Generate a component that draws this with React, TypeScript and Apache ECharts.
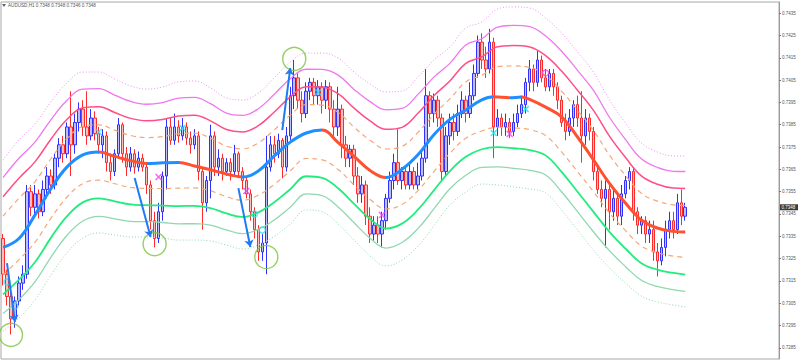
import React, { useEffect, useRef } from "react";
import * as echarts from "echarts";

// ---------- data (prices stored in pips above BASE_PRICE) ----------
const BASE_PRICE = 0.728;
const PIP = 0.0001;
const titleSymbol = "AUDUSD,H1";
const titleOhlc = ["0.7348", "0.7348", "0.7346", "0.7348"];
const lastPrice = 0.7348;
const slotCount = 195;

const tickLabels = [
  "0.7285", "0.7295", "0.7305", "0.7315", "0.7325", "0.7335", "0.7345", "0.7355",
  "0.7365", "0.7375", "0.7385", "0.7395", "0.7405", "0.7415", "0.7425", "0.7435",
];

// [open, close, low, high] in pips
const candles: number[][] = [
  [54,38,33,56],[38,28,24,40],[28,18,11,30],[18,26,14,28],[26,34,24,37],[34,38,31,42],[38,75,36,78],[75,68,64,78],
  [68,74,65,78],[74,66,63,76],[66,76,64,80],[76,82,72,86],[82,78,74,85],[78,90,76,92],[90,96,86,99],[96,92,88,100],
  [92,104,90,106],[104,96,82,120],[96,106,92,110],[106,112,102,115],[112,104,100,116],[104,100,96,120],[100,108,98,112],[108,101,98,111],
  [101,96,92,104],[96,100,90,103],[100,88,84,102],[88,84,80,92],[84,92,82,94],[92,105,90,108],[105,92,88,106],[92,86,82,95],
  [86,92,84,95],[92,86,83,94],[86,90,84,93],[90,86,84,92],[86,78,74,88],[78,62,58,80],[62,54,50,66],[54,66,52,70],
  [66,82,62,84],[82,104,76,108],[104,98,96,108],[98,104,96,110],[104,100,97,107],[100,104,98,108],[104,99,96,106],[99,96,92,102],
  [96,100,94,103],[100,84,80,102],[84,70,58,86],[70,80,66,82],[80,100,72,105],[100,86,82,102],[86,90,82,94],[90,84,80,92],
  [84,88,82,90],[88,84,80,90],[84,92,82,96],[92,84,81,93],[84,80,76,86],[80,74,72,82],[74,66,62,76],[66,58,54,68],
  [58,48,44,60],[48,52,44,56],[52,86,38,100],[86,96,84,100],[96,92,88,100],[92,98,90,101],[98,86,81,99],[86,100,84,104],
  [100,118,98,122],[118,126,112,134],[126,116,112,128],[116,110,106,120],[110,120,108,124],[120,124,116,126],[124,118,114,126],[118,122,114,125],
  [122,116,110,124],[116,122,112,125],[122,112,106,124],[112,104,100,116],[104,112,100,122],[112,96,90,114],[96,90,86,100],[90,94,86,96],
  [94,82,78,96],[82,74,70,86],[74,78,70,82],[78,64,60,80],[64,56,52,68],[56,60,53,64],[60,56,52,64],[56,62,50,66],
  [62,72,58,74],[72,80,70,84],[80,88,76,92],[88,80,78,103],[80,84,76,86],[84,78,76,86],[78,84,76,88],[84,78,76,86],
  [78,82,76,88],[82,90,80,94],[90,118,88,130],[118,110,104,120],[110,116,106,119],[116,108,104,118],[108,84,80,110],[84,100,82,104],
  [100,106,96,110],[106,102,98,110],[102,110,100,114],[110,116,108,120],[116,110,106,118],[110,118,108,124],[118,128,116,132],[128,142,126,145],
  [142,134,130,146],[134,130,126,140],[130,142,128,148],[142,104,90,144],[104,108,100,112],[108,104,100,110],[104,106,100,110],[106,102,99,108],
  [102,106,100,110],[106,110,104,114],[110,114,108,118],[114,124,110,126],[124,130,120,134],[130,124,120,132],[124,134,122,138],[134,126,124,136],
  [126,122,120,130],[122,128,120,130],[128,122,118,130],[122,116,112,124],[116,106,104,118],[106,102,98,110],[102,108,100,112],[108,114,104,116],
  [114,108,104,118],[108,100,88,120],[100,108,96,112],[108,102,98,110],[102,84,80,104],[84,76,74,86],[76,72,68,80],[72,76,50,80],
  [76,66,58,78],[66,72,62,76],[72,64,60,74],[64,74,60,78],[74,80,72,82],[80,84,76,86],[84,66,62,86],[66,60,56,68],
  [60,62,56,64],[62,56,52,64],[56,58,52,62],[58,48,44,62],[48,44,37,52],[44,50,42,54],[50,58,46,62],[58,62,54,66],
  [62,58,54,66],[58,70,56,74],[70,64,60,76],[64,68,62,70],
];

// center moving average: [candle index, pips]
const centerLine: number[][] = [
  [0,50.0],[4,54.0],[8,64.5],[12,76.3],[16,86.0],[20,91.5],[24,92.8],[28,90.8],[32,88.9],[36,87.6],
  [40,87.9],[44,88.1],[48,86.5],[52,84.8],[56,82.9],[60,81.6],[64,84.3],[68,91.0],[72,97.2],[76,101.3],
  [80,102.6],[84,97.0],[88,90.8],[92,84.5],[96,81.3],[100,85.0],[104,91.5],[108,100.5],[112,107.4],[116,111.6],
  [120,116.1],[123,117.5],[127,117.1],[130,117.4],[132,116.4],[136,112.9],[140,108.5],[144,99.5],[148,89.2],[152,78.7],
  [156,69.9],[160,62.3],[164,58.7],[168,57.2],[171,56.9],
];

// outer envelope lines (pips) sampled at bandIdx
const bandIdx = [
  0,4,8,12,16,20,24,28,32,36,40,44,48,52,56,60,64,68,72,76,80,84,
  88,92,96,100,104,108,112,116,120,124,128,132,136,140,144,148,152,156,160,164,168,171,
];
const upperOuter = [
  89.2,98.2,105.3,115.2,123.7,128.6,128.6,125.5,122.4,121.0,121.9,124.2,124.6,121.5,117.0,116.1,119.2,126.0,133.1,137.1,
  137.1,134.9,128.6,123.3,119.7,120.1,126.4,134.0,139.8,148.3,151.0,156.9,157.8,157.3,152.8,146.1,137.6,128.6,116.1,105.8,
  96.8,92.8,91.0,91.0,
];
const lowerOuter = [
  12.5,18.4,26.4,37.6,47.5,54.2,56.5,55.6,54.7,54.7,54.2,53.3,53.3,52.9,51.1,49.3,51.1,55.0,60.5,66.8,
  65.9,60.5,53.3,46.2,41.7,44.4,50.6,59.6,69.0,74.8,78.4,78.0,77.1,76.2,74.4,66.8,57.8,48.8,40.8,34.1,
  28.2,25.6,24.2,23.3,
];
// position of each envelope between lower (0) and upper (1) outer line
const bandPositions = [1, 0.897, 0.785, 0.672, 0.328, 0.215, 0.103, 0];

// annotations: [candle index, pips]
const greenRings = [[2,10.8],[38,51.5],[66,45.7],[73,134.5]];
const cyanCrosses = [[24,101.7],[45,103.5],[79,119.6],[123,101.3],[131,112.0]];
const magentaCrosses = [[39,81.6],[61,75.3],[95,64.5],[127,100.8]];
const cyanRings = [[1,34.5],[3,23.7],[63,65.0],[65,57.8]];
const magentaRings = [[136,128.2]];
// arrows: [from index, from pips, to index, to pips]
const arrows = [[1,43,3,16.6],[33,81.1,37,54.7],[59,76.6,62,50.2],[70,102.6,72,130.4]];

// ---------- styles ----------
const CENTER_UP = "#1E8FFF";
const CENTER_DOWN = "#FF5030";
const bandStyles = [
  { color: "#F08CF0", width: 1, type: [1, 2] },
  { color: "#EE78EE", width: 1.3, type: "solid" },
  { color: "#FF4F86", width: 1.5, type: "solid" },
  { color: "#F4A878", width: 1.2, type: [5, 4] },
  { color: "#F4A878", width: 1.2, type: [5, 4] },
  { color: "#22EC7C", width: 1.8, type: "solid" },
  { color: "#8FD8B0", width: 1.3, type: "solid" },
  { color: "#8FD8B0", width: 1, type: [1, 2] },
];
const FONT = "Liberation Sans";

const toPrice = (p: number) => +(BASE_PRICE + p * PIP).toFixed(6);

export default function App() {
  const ref = useRef<HTMLDivElement>(null);

  useEffect(() => {
    if (!ref.current) return;
    const chart = echarts.init(ref.current, undefined, { renderer: "svg" });

    const categories = Array.from({ length: slotCount }, (_, i) => String(i));
    const candleData = candles.map((c) => c.map(toPrice));

    const bandSeries = bandPositions.map((t, b) => ({
      type: "line",
      data: bandIdx.map((idx, j) => [idx, toPrice(lowerOuter[j] + (upperOuter[j] - lowerOuter[j]) * t)]),
      smooth: 0.4,
      symbol: "none",
      silent: true,
      lineStyle: { color: bandStyles[b].color, width: bandStyles[b].width, type: bandStyles[b].type },
      z: 3,
    }));

    const pieces: any[] = [];
    for (let k = 0; k < centerLine.length - 1; k++) {
      const rising = centerLine[k + 1][1] >= centerLine[k][1];
      const color = rising ? CENTER_UP : CENTER_DOWN;
      const last = pieces[pieces.length - 1];
      if (last && last.color === color) last.lt = centerLine[k + 1][0];
      else pieces.push({ gte: centerLine[k][0], lt: centerLine[k + 1][0], color });
    }
    pieces[pieces.length - 1].lt = slotCount;

    const centerSeriesIndex = 1 + bandSeries.length;
    const crossPath = "path://M0 0L10 10M10 0L0 10";
    const tickValues = tickLabels.map(Number);

    const option: any = {
      animation: false,
      backgroundColor: "#ffffff",
      grid: { left: 1, right: 20, top: 2, bottom: 2, show: true, borderColor: "#a8a8a8", borderWidth: 1, backgroundColor: "transparent" },
      xAxis: { type: "category", data: categories, boundaryGap: true, show: false },
      yAxis: {
        type: "value",
        position: "right",
        min: 0.728,
        max: 0.744,
        splitLine: { show: false },
        axisLine: { show: true, lineStyle: { color: "#9a9a9a", width: 1 } },
        axisTick: { show: true, length: 2, customValues: tickValues, lineStyle: { color: "#777" } },
        axisLabel: {
          customValues: tickValues,
          fontSize: 4.5,
          fontFamily: FONT,
          color: "#555",
          margin: 3,
          formatter: (v: number) => v.toFixed(4),
        },
      },
      visualMap: [{ type: "piecewise", show: false, dimension: 0, seriesIndex: centerSeriesIndex, pieces }],
      series: [
        {
          type: "candlestick",
          data: candleData,
          barWidth: 3,
          z: 2,
          itemStyle: {
            color: "rgba(110,110,255,0.45)",
            color0: "rgba(255,110,110,0.45)",
            borderColor: "#3030FF",
            borderColor0: "#FF2A2A",
            borderWidth: 1,
          },
        },
        ...bandSeries,
        {
          type: "line",
          data: centerLine.map((p) => [p[0], toPrice(p[1])]),
          smooth: 0.4,
          symbol: "none",
          silent: true,
          lineStyle: { width: 3 },
          z: 5,
        },
        {
          type: "scatter",
          data: greenRings.map((p) => [p[0], toPrice(p[1])]),
          symbol: "circle",
          symbolSize: 23,
          silent: true,
          itemStyle: { color: "transparent", borderColor: "#7CC440", borderWidth: 1.4 },
          z: 6,
        },
        {
          type: "scatter",
          data: cyanCrosses.map((p) => [p[0], toPrice(p[1])]),
          symbol: crossPath,
          symbolSize: 6,
          silent: true,
          itemStyle: { color: "transparent", borderColor: "#20E0F0", borderWidth: 1.5 },
          z: 6,
        },
        {
          type: "scatter",
          data: magentaCrosses.map((p) => [p[0], toPrice(p[1])]),
          symbol: crossPath,
          symbolSize: 6,
          silent: true,
          itemStyle: { color: "transparent", borderColor: "#F040F0", borderWidth: 1.5 },
          z: 6,
        },
        {
          type: "scatter",
          data: cyanRings.map((p) => [p[0], toPrice(p[1])]),
          symbol: "circle",
          symbolSize: 6,
          silent: true,
          itemStyle: { color: "transparent", borderColor: "#20E0F0", borderWidth: 1.3 },
          z: 6,
        },
        {
          type: "scatter",
          data: magentaRings.map((p) => [p[0], toPrice(p[1])]),
          symbol: "circle",
          symbolSize: 6,
          silent: true,
          itemStyle: { color: "transparent", borderColor: "#F040F0", borderWidth: 1.3 },
          z: 6,
        },
        {
          type: "lines",
          coordinateSystem: "cartesian2d",
          silent: true,
          symbol: ["none", "arrow"],
          symbolSize: 7,
          lineStyle: { color: "#1E7BF5", width: 2, opacity: 1, curveness: 0 },
          data: arrows.map((a) => ({ coords: [[a[0], toPrice(a[1])], [a[2], toPrice(a[3])]] })),
          z: 7,
        },
      ],
      graphic: [
        { id: "tri", type: "polygon", shape: { points: [[2, 4], [6, 4], [4, 7]] }, style: { fill: "#666" }, z: 10 },
        {
          id: "title",
          type: "text",
          left: 8,
          top: 3,
          z: 10,
          style: {
            text: titleSymbol + " " + titleOhlc.join(" "),
            fontSize: 4.6,
            fontFamily: FONT,
            fill: "#555",
          },
        },
      ],
    };

    chart.setOption(option);

    // current price tag on the price scale
    const py = chart.convertToPixel({ yAxisIndex: 0 }, lastPrice) as number;
    chart.setOption({
      graphic: [
        { id: "tri" },
        { id: "title" },
        {
          id: "priceBox",
          type: "rect",
          shape: { x: 780, y: py - 3, width: 18, height: 6 },
          style: { fill: "#3c3c3c" },
          z: 20,
        },
        {
          id: "priceText",
          type: "text",
          x: 781.5,
          y: py,
          z: 21,
          style: {
            text: lastPrice.toFixed(4),
            fontSize: 4.5,
            fontFamily: FONT,
            fill: "#ffffff",
            verticalAlign: "middle",
            align: "left",
          },
        },
      ],
    });

    return () => chart.dispose();
  }, []);

  return (
    <div
      ref={ref}
      style={{ position: "absolute", left: 0, top: 0, width: 799, height: 361, background: "#fff" }}
    />
  );
}
